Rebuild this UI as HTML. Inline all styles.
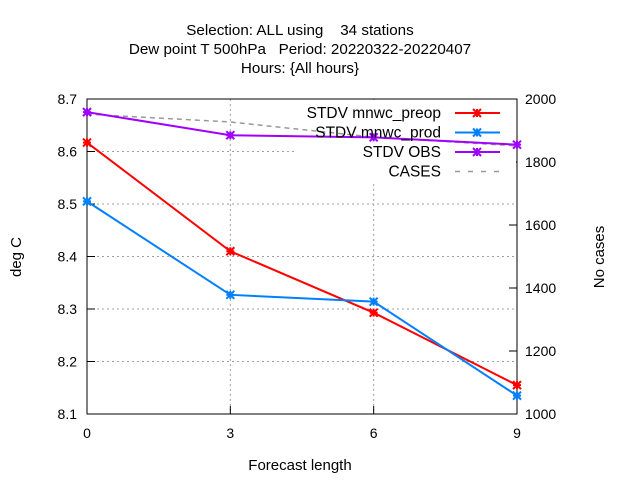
<!DOCTYPE html>
<html><head><style>
body{margin:0;background:#fff;}
svg{display:block;font-family:"Liberation Sans",sans-serif;}
.pre{white-space:pre;}
</style></head><body>
<svg id="c" width="640" height="480">
<text class="pre" x="300" y="35" font-size="15.2" text-anchor="middle">Selection: ALL using    34 stations</text>
<text class="pre" x="300" y="54" font-size="15.2" text-anchor="middle">Dew point T 500hPa   Period: 20220322-20220407</text>
<text x="300" y="73" font-size="15.2" text-anchor="middle">Hours: {All hours}</text>
<text x="300" y="470" font-size="15" text-anchor="middle">Forecast length</text>
<text transform="translate(21,257) rotate(-90)" font-size="15" text-anchor="middle">deg C</text>
<text transform="translate(604,257) rotate(-90)" font-size="15" text-anchor="middle">No cases</text>
<g id="grid"></g><g id="axes"></g><g id="legendbg"></g><g id="series"></g><g id="legend"></g>
</svg>
<script>
const xCats=[0,3,6,9];
const yTicks=[8.1,8.2,8.3,8.4,8.5,8.6,8.7];
const y2Ticks=[1000,1200,1400,1600,1800,2000];
const preop=[8.617,8.410,8.293,8.155];
const prod=[8.505,8.327,8.314,8.135];
const obs=[8.675,8.631,8.627,8.613];
const cases=[1952,1927,1879,1851];
const L=87,R=517,T=99,B=414;
const X=v=>L+(v-0)/9*(R-L);
const Y=v=>B-(v-8.1)/0.6*(B-T);
const Y2=v=>B-(v-1000)/1000*(B-T);
const NS='http://www.w3.org/2000/svg';
function mk(p,tag,a){const e=document.createElementNS(NS,tag);for(const k in a)e.setAttribute(k,a[k]);document.getElementById(p).appendChild(e);return e;}
yTicks.forEach((t,i)=>{const y=Y(t);
 if(i>0&&i<yTicks.length-1){const g=mk('grid','line',{x1:L,x2:R,y1:y,y2:y,stroke:'#a0a0a0','stroke-dasharray':'2,3'});}
 const tk=mk('axes','line',{x1:L,x2:L+8,y1:y,y2:y,stroke:'#000'});
 const tx=mk('axes','text',{x:L-10,y:y+5,'font-size':14,'text-anchor':'end'});tx.textContent=t.toFixed(1);});
y2Ticks.forEach(t=>{const y=Y2(t);
 const tk=mk('axes','line',{x1:R-8,x2:R,y1:y,y2:y,stroke:'#000'});
 const tx=mk('axes','text',{x:R+8,y:y+5,'font-size':14});tx.textContent=t;});
xCats.forEach((t,i)=>{const x=X(t);
 if(i>0&&i<xCats.length-1){const g=mk('grid','line',{x1:x,x2:x,y1:T,y2:B,stroke:'#a0a0a0','stroke-dasharray':'2,3'});}
 const tk=mk('axes','line',{x1:x,x2:x,y1:B-8,y2:B,stroke:'#000'});
 const tx=mk('axes','text',{x:x,y:B+24,'font-size':14,'text-anchor':'middle'});tx.textContent=t;});
const fr=mk('axes','rect',{x:L,y:T,width:R-L,height:B-T,fill:'none',stroke:'#000'});

const lb=mk('legendbg','rect',{x:296,y:100,width:220,height:84,fill:'#fff'});

function star(g,x,y,c){mk(g,'path',{d:`M${x-4},${y-4}L${x+4},${y+4}M${x-4},${y+4}L${x+4},${y-4}M${x-4},${y}L${x+4},${y}M${x},${y-4}L${x},${y+4}`,stroke:c,'stroke-width':2});}
const cl=mk('series','polyline',{points:cases.map((v,i)=>X(xCats[i])+','+Y2(v)).join(' '),fill:'none',stroke:'#999','stroke-width':1.5,'stroke-dasharray':'5,4'});

[[preop,'#ff0000','preop-line'],[prod,'#0080ff','prod-line'],[obs,'#a000ff','obs-line']].forEach(([d,c,n])=>{
 const p=mk('series','polyline',{points:d.map((v,i)=>X(xCats[i])+','+Y(v)).join(' '),fill:'none',stroke:c,'stroke-width':2});
 
 d.forEach((v,i)=>star('series',X(xCats[i]),Y(v),c));});
[['STDV mnwc_preop','#ff0000',0],['STDV mnwc_prod','#0080ff',0],['STDV OBS','#a000ff',0],['CASES','#999',1]].forEach(([t,c,dash],i)=>{
 const y=113+i*19.5;
 const tx=mk('legend','text',{x:441,y:y+5,'font-size':15.5,'text-anchor':'end'});tx.textContent=t;
 
 if(dash){mk('legend','line',{x1:455,x2:500,y1:y,y2:y,stroke:c,'stroke-width':1.5,'stroke-dasharray':'5,8'});}
 else{mk('legend','line',{x1:455,x2:500,y1:y,y2:y,stroke:c,'stroke-width':2});star('legend',477,y,c);}
});
</script>
</body></html>
